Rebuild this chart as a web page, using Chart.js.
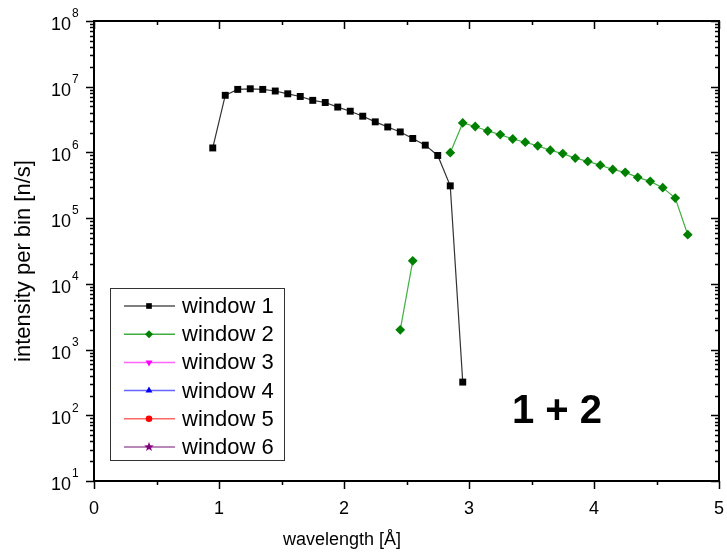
<!DOCTYPE html>
<html>
<head>
<meta charset="utf-8">
<script src="https://cdn.jsdelivr.net/npm/chart.js@4"></script>
<style>
  html, body { margin: 0; padding: 0; background: #fff; }
</style>
</head>
<body>
<canvas id="myChart" width="727" height="560"></canvas>
<script>
// window 1 (black squares)
const wavelength1 = [0.95, 1.05, 1.15, 1.25, 1.35, 1.45, 1.55, 1.65, 1.75, 1.85, 1.95,
                     2.05, 2.15, 2.25, 2.35, 2.45, 2.55, 2.65, 2.75, 2.85, 2.95];
const intensity1 = [1.17e6, 7.4e6, 9.1e6, 9.3e6, 9.1e6, 8.6e6, 7.8e6, 7.1e6, 6.2e6, 5.75e6, 4.9e6,
                    4.24e6, 3.56e6, 2.92e6, 2.44e6, 2.05e6, 1.63e6, 1.29e6, 9.0e5, 3.1e5, 3.2e2];

// window 2 (green diamonds), gap between 2.55 and 2.85
const wavelength2 = [2.45, 2.55, 2.85, 2.95, 3.05, 3.15, 3.25, 3.35, 3.45, 3.55, 3.65,
                     3.75, 3.85, 3.95, 4.05, 4.15, 4.25, 4.35, 4.45, 4.55, 4.65, 4.75];
const intensity2 = [2.0e3, 2.24e4, 9.9e5, 2.81e6, 2.48e6, 2.12e6, 1.87e6, 1.60e6, 1.43e6, 1.26e6, 1.08e6,
                    9.6e5, 8.2e5, 7.3e5, 6.4e5, 5.5e5, 4.98e5, 4.18e5, 3.63e5, 2.91e5, 2.02e5, 5.6e4];

// windows 3-6 have no points, only legend entries
const seriesNames = ["window 1", "window 2", "window 3", "window 4", "window 5", "window 6"];
const xTicks = [0, 1, 2, 3, 4, 5];
const yExponents = [1, 2, 3, 4, 5, 6, 7, 8];

const FONT = "'Liberation Sans', Arial, sans-serif";

function toXY(xs, ys) {
    return xs.map((x, i) => ({ x: x, y: ys[i] }));
}

// frame, ticks, tick labels, axis titles, legend and the "1 + 2" note
const originStyle = {
    id: "originStyle",
    afterDraw(chart) {
        const ctx = chart.ctx;
        const a = chart.chartArea;
        const xs = chart.scales.x;
        const ys = chart.scales.y;
        ctx.save();
        ctx.strokeStyle = "#000";
        ctx.lineWidth = 2;
        ctx.strokeRect(a.left, a.top, a.right - a.left, a.bottom - a.top);

        ctx.lineWidth = 1.5;
        ctx.beginPath();
        // x ticks: outward at bottom, inward at top
        for (let v = 0; v <= 5.001; v += 0.5) {
            const px = Math.round(xs.getPixelForValue(v)) + 0.5;
            const major = Math.abs(v - Math.round(v)) < 1e-6;
            const len = major ? 8 : 4;
            ctx.moveTo(px, a.bottom); ctx.lineTo(px, a.bottom + len);
            ctx.moveTo(px, a.top); ctx.lineTo(px, a.top + len);
        }
        // y ticks: outward at left, inward at right
        for (let e = 1; e <= 8; e++) {
            for (let m = 1; m <= 9; m++) {
                if (e === 8 && m > 1) break;
                const py = Math.round(ys.getPixelForValue(m * Math.pow(10, e))) + 0.5;
                const len = m === 1 ? 8 : 4;
                ctx.moveTo(a.left - len, py); ctx.lineTo(a.left, py);
                ctx.moveTo(a.right - len, py); ctx.lineTo(a.right, py);
            }
        }
        ctx.stroke();

        ctx.fillStyle = "#000";
        // x tick labels
        ctx.font = "18px " + FONT;
        ctx.textAlign = "center";
        ctx.textBaseline = "middle";
        xTicks.forEach(v => {
            ctx.fillText(String(v), xs.getPixelForValue(v), 509);
        });

        // y tick labels 10^n
        yExponents.forEach(n => {
            const py = ys.getPixelForValue(Math.pow(10, n));
            ctx.font = "18px " + FONT;
            ctx.textAlign = "right";
            ctx.textBaseline = "middle";
            ctx.fillText("10", 71, py + 4);
            ctx.font = "12px " + FONT;
            ctx.textAlign = "left";
            ctx.fillText(String(n), 72, py - 7);
        });

        // axis titles
        ctx.font = "18px " + FONT;
        ctx.textAlign = "center";
        ctx.textBaseline = "middle";
        ctx.fillText("wavelength [\u00C5]", 342, 540);
        ctx.save();
        ctx.translate(24, 261);
        ctx.rotate(-Math.PI / 2);
        ctx.font = "22px " + FONT;
        ctx.fillText("intensity per bin [n/s]", 0, 0);
        ctx.restore();

        // legend box
        ctx.fillStyle = "#fff";
        ctx.fillRect(110, 288, 174, 172);
        ctx.strokeStyle = "#333";
        ctx.lineWidth = 1;
        ctx.strokeRect(110.5, 288.5, 174, 172);
        chart.data.datasets.forEach((ds, i) => {
            const ly = 306 + i * 28.2;
            ctx.strokeStyle = ds.legendLine;
            ctx.lineWidth = 1.5;
            ctx.beginPath();
            ctx.moveTo(124, ly); ctx.lineTo(175, ly);
            ctx.stroke();
            ctx.fillStyle = ds.pointBackgroundColor;
            ctx.strokeStyle = ds.pointBackgroundColor;
            if (ds.pointStyle === "star5") {
                ctx.beginPath();
                for (let k = 0; k < 10; k++) {
                    const r = k % 2 === 0 ? 5 : 2.1;
                    const ang = -Math.PI / 2 + k * Math.PI / 5;
                    const px = 149 + r * Math.cos(ang), py = ly + r * Math.sin(ang);
                    if (k === 0) ctx.moveTo(px, py); else ctx.lineTo(px, py);
                }
                ctx.closePath();
                ctx.fill();
            } else {
                Chart.helpers.drawPoint(ctx, {
                    pointStyle: ds.pointStyle,
                    rotation: ds.pointRotation || 0,
                    radius: ds.pointStyle === "circle" ? 3.3 : 4,
                    borderWidth: 0
                }, 149, ly);
            }
            ctx.fillStyle = "#000";
            ctx.font = "22px " + FONT;
            ctx.textAlign = "left";
            ctx.textBaseline = "middle";
            ctx.fillText(seriesNames[i], 182, ly + 1);
        });

        // panel note
        ctx.fillStyle = "#000";
        ctx.font = "bold 40px " + FONT;
        ctx.textAlign = "center";
        ctx.textBaseline = "middle";
        ctx.fillText("1 + 2", 557, 412);
        ctx.restore();
    }
};

const ctx = document.getElementById("myChart").getContext("2d");
const myChart = new Chart(ctx, {
    type: "line",
    data: {
        datasets: [
            {
                label: seriesNames[0],
                data: toXY(wavelength1, intensity1),
                borderColor: "#333",
                legendLine: "#555",
                borderWidth: 1.2,
                pointStyle: "rect",
                pointRadius: 4.9,
                pointBorderWidth: 0,
                pointBackgroundColor: "#000"
            },
            {
                label: seriesNames[1],
                data: toXY(wavelength2, intensity2),
                borderColor: "rgba(0,150,0,0.75)",
                legendLine: "#3fae3f",
                borderWidth: 1.2,
                pointStyle: "rectRot",
                pointRadius: 4.9,
                pointBorderWidth: 0,
                pointBackgroundColor: "#008000",
                segment: {
                    borderColor: c => (c.p1.parsed.x - c.p0.parsed.x > 0.2 ? "transparent" : undefined)
                }
            },
            {
                label: seriesNames[2], data: [], borderColor: "#ff00ff", legendLine: "#ff66ff",
                pointStyle: "triangle", pointRotation: 180, pointBackgroundColor: "#ff00ff"
            },
            {
                label: seriesNames[3], data: [], borderColor: "#0000ff", legendLine: "#6666ff",
                pointStyle: "triangle", pointBackgroundColor: "#0000ff"
            },
            {
                label: seriesNames[4], data: [], borderColor: "#ff0000", legendLine: "#ff6666",
                pointStyle: "circle", pointBackgroundColor: "#ff0000"
            },
            {
                label: seriesNames[5], data: [], borderColor: "#800080", legendLine: "#a060a0",
                pointStyle: "star5", pointBackgroundColor: "#800080"
            }
        ]
    },
    options: {
        responsive: false,
        animation: false,
        devicePixelRatio: 1,
        layout: { padding: { top: 21, right: 8, left: 0, bottom: 0 } },
        plugins: {
            legend: { display: false },
            tooltip: { enabled: false }
        },
        elements: { line: { tension: 0 } },
        scales: {
            x: {
                type: "linear",
                position: "bottom",
                min: 0,
                max: 5,
                afterFit: scale => { scale.height = 79; },
                grid: { display: false, drawTicks: false },
                border: { display: false },
                ticks: { display: false }
            },
            y: {
                type: "logarithmic",
                position: "left",
                min: 10,
                max: 1e8,
                afterFit: scale => { scale.width = 94; },
                grid: { display: false, drawTicks: false },
                border: { display: false },
                ticks: { display: false }
            }
        }
    },
    plugins: [originStyle]
});
</script>
</body>
</html>
